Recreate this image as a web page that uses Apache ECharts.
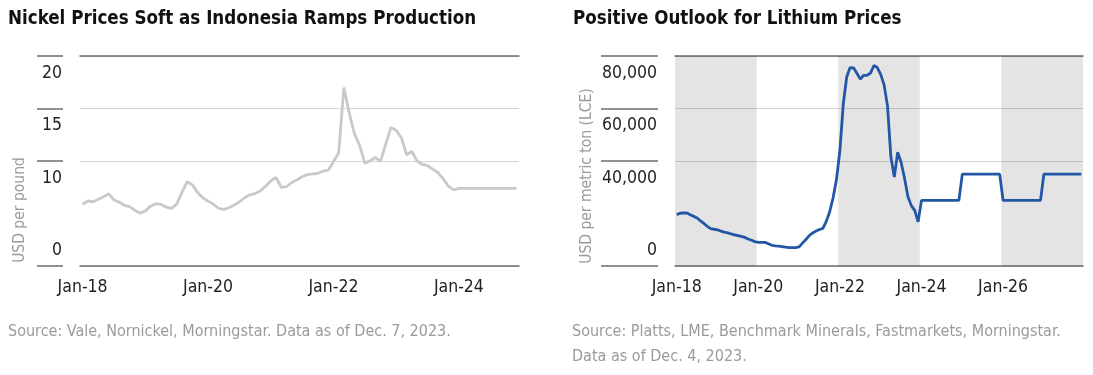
<!DOCTYPE html>
<html>
<head>
<meta charset="utf-8">
<title>Nickel and Lithium Prices</title>
<script src="https://cdn.jsdelivr.net/npm/echarts@6/dist/echarts.min.js"></script>
<style>
html, body { margin: 0; padding: 0; background: #fff; }
#main { width: 1093px; height: 375px; }
</style>
</head>
<body>
<div id="main"></div>
<script>
// 镍价，月度，2018年1月 - 2024年12月
var nickelPrices = [
    5.88, 6.19, 6.12, 6.35, 6.6, 6.86, 6.29, 6.08, 5.78, 5.66, 5.3, 5.03,
    5.25, 5.7, 5.93, 5.87, 5.6, 5.49, 5.9, 7.0, 8.03, 7.73, 7.0, 6.5,
    6.18, 5.9, 5.5, 5.4, 5.55, 5.8, 6.1, 6.5, 6.78, 6.9, 7.15, 7.6,
    8.1, 8.45, 7.5, 7.55, 7.95, 8.19, 8.5, 8.7, 8.78, 8.83, 9.03, 9.12,
    9.93, 10.8, 17.0, 14.6, 12.6, 11.5, 9.8, 10.0, 10.35, 9.95, 11.6, 13.2,
    12.9, 12.2, 10.6, 10.9, 10.0, 9.67, 9.55, 9.23, 8.88, 8.3, 7.6, 7.24,
    7.4, 7.4, 7.4, 7.4, 7.4, 7.4, 7.4, 7.4, 7.4, 7.4, 7.4, 7.4
];
var nickelXTicks = [0, 24, 48, 72];
var nickelXLabels = ['Jan-18', 'Jan-20', 'Jan-22', 'Jan-24'];
var nickelYTicks = [0, 10, 15, 20];

// 锂价，月度，2018年1月 - 2027年12月
var lithiumPrices = [
    19580, 20100, 20190, 20190, 19500, 18900, 18300, 17200, 16200, 15100, 14200, 14000,
    13800, 13300, 12900, 12600, 12200, 11900, 11600, 11300, 10900, 10300, 9800, 9300,
    9030, 9030, 9000, 8500, 7880, 7700, 7550, 7350, 7150, 7010, 7000, 7010,
    7300, 8700, 10100, 11600, 12600, 13300, 13900, 14300, 17000, 20700, 26000, 33000,
    44000, 61800, 72000, 75600, 75500, 73400, 71200, 72650, 72650, 73500, 76400, 75600,
    73000, 69000, 61000, 41500, 33900, 43400, 39500, 33500, 26500, 23000, 21200, 16800,
    25000, 25000, 25000, 25000, 25000, 25000, 25000, 25000, 25000, 25000, 25000, 25000,
    35000, 35000, 35000, 35000, 35000, 35000, 35000, 35000, 35000, 35000, 35000, 35000,
    25000, 25000, 25000, 25000, 25000, 25000, 25000, 25000, 25000, 25000, 25000, 25000,
    35000, 35000, 35000, 35000, 35000, 35000, 35000, 35000, 35000, 35000, 35000, 35000
];
var lithiumXTicks = [0, 24, 48, 72, 96];
var lithiumXLabels = ['Jan-18', 'Jan-20', 'Jan-22', 'Jan-24', 'Jan-26'];
var lithiumYTicks = [0, 40000, 60000, 80000];
// 灰色背景区间（月序号，起止）
var lithiumBands = [[0, 24], [48, 72], [96, 120]];

var FONT = "'DejaVu Sans Condensed', 'Liberation Sans Narrow', sans-serif";

var yRich = {
    t: {fontSize: 17.5, fontFamily: FONT, color: '#222', padding: [34, 0, 0, 0]},
    b: {fontSize: 17.5, fontFamily: FONT, color: '#222', padding: [0, 0, 32, 0]}
};

function xLabelFormatter(ticks, labels) {
    return function (v) {
        var i = ticks.indexOf(Math.round(v));
        return i >= 0 ? labels[i] : '';
    };
}

function yLabelFormatter(fmt) {
    return function (v) {
        if (v === 0) return '{b|0}';
        return '{t|' + fmt(v) + '}';
    };
}

function thousands(v) {
    return String(v).replace(/\B(?=(\d{3})+(?!\d))/g, ',');
}

function bottomAxis(grid, max, ticks, labels) {
    return {
        gridIndex: grid, type: 'value', min: -0.5, max: max, position: 'bottom',
        axisLine: {onZero: false, lineStyle: {color: '#6e6e6e', width: 1.5}},
        axisTick: {show: false},
        splitLine: {show: false},
        axisLabel: {
            customValues: ticks,
            formatter: xLabelFormatter(ticks, labels),
            color: '#222', fontSize: 17.5, fontFamily: FONT, margin: 12
        }
    };
}

function topAxis(grid, max) {
    return {
        gridIndex: grid, type: 'value', min: -0.5, max: max, position: 'top',
        axisLine: {onZero: false, lineStyle: {color: '#6e6e6e', width: 1.5}},
        axisTick: {show: false},
        axisLabel: {show: false},
        splitLine: {show: false}
    };
}

function gridAxis(grid, max, interval, ticks) {
    return {
        gridIndex: grid, type: 'value', min: 0, max: max, interval: interval,
        position: 'left',
        axisLine: {show: false, onZero: false},
        axisTick: {show: false, customValues: ticks},
        axisLabel: {show: false},
        splitLine: {show: true, lineStyle: {color: '#d4d4d4', width: 1.2}}
    };
}

function labelAxis(grid, max, interval, ticks, tickLen, fmt) {
    return {
        gridIndex: grid, type: 'value', min: 0, max: max, interval: interval,
        position: 'left',
        offset: 17,
        axisLine: {show: false, onZero: false},
        axisTick: {show: true, inside: false, length: tickLen, customValues: ticks,
            lineStyle: {color: '#6e6e6e', width: 1.5}},
        axisLabel: {
            customValues: ticks, margin: 1,
            fontSize: 17.5, fontFamily: FONT, color: '#222',
            formatter: yLabelFormatter(fmt),
            rich: yRich
        },
        splitLine: {show: false}
    };
}

function showCharts() {
    var myChart = echarts.init(document.getElementById('main'));
    var option = {
        animation: false,
        title: [
            {
                text: 'Nickel Prices Soft as Indonesia Ramps Production',
                left: 8, top: 10, padding: 0,
                textStyle: {fontFamily: FONT, fontSize: 18.6, fontWeight: 'bold', color: '#111'}
            },
            {
                text: 'Positive Outlook for Lithium Prices',
                left: 573, top: 10, padding: 0,
                textStyle: {fontFamily: FONT, fontSize: 18.6, fontWeight: 'bold', color: '#111'}
            }
        ],
        grid: [
            {left: 80, top: 56, width: 439, height: 210, outerBoundsMode: 'none'},
            {left: 675, top: 56, width: 408, height: 210, outerBoundsMode: 'none'}
        ],
        xAxis: [
            bottomAxis(0, 83.5, nickelXTicks, nickelXLabels),
            topAxis(0, 83.5),
            bottomAxis(1, 119.5, lithiumXTicks, lithiumXLabels),
            topAxis(1, 119.5)
        ],
        yAxis: [
            gridAxis(0, 20, 5, nickelYTicks),
            labelAxis(0, 20, 5, nickelYTicks, 26, function (v) { return v; }),
            gridAxis(1, 80000, 20000, lithiumYTicks),
            labelAxis(1, 80000, 20000, lithiumYTicks, 57, thousands)
        ],
        series: [
            {
                name: 'Nickel',
                type: 'line',
                xAxisIndex: 0, yAxisIndex: 0,
                symbol: 'none',
                silent: true,
                lineStyle: {color: '#c9c9c9', width: 2.8},
                data: nickelPrices.map(function (v, i) { return [i, v]; })
            },
            {
                name: 'Lithium',
                type: 'line',
                xAxisIndex: 2, yAxisIndex: 2,
                symbol: 'none',
                silent: true,
                lineStyle: {color: '#2356a5', width: 2.8},
                markArea: {
                    silent: true,
                    itemStyle: {color: 'rgba(0,0,0,0.105)'},
                    data: lithiumBands.map(function (b) {
                        return [{xAxis: b[0] - 0.5}, {xAxis: b[1] - 0.5}];
                    })
                },
                data: lithiumPrices.map(function (v, i) { return [i, v]; })
            }
        ],
        graphic: [
            {
                type: 'text', x: 20, y: 210, rotation: Math.PI / 2,
                style: {text: 'USD per pound', fontFamily: FONT, fontSize: 15.5, fill: '#9a9a9a',
                    align: 'center', verticalAlign: 'middle'}
            },
            {
                type: 'text', x: 587, y: 176, rotation: Math.PI / 2,
                style: {text: 'USD per metric ton (LCE)', fontFamily: FONT, fontSize: 15.5, fill: '#9a9a9a',
                    align: 'center', verticalAlign: 'middle'}
            },
            {
                type: 'text', x: 8, y: 332,
                style: {text: 'Source: Vale, Nornickel, Morningstar. Data as of Dec. 7, 2023.',
                    fontFamily: FONT, fontSize: 16, fill: '#9a9a9a', verticalAlign: 'middle'}
            },
            {
                type: 'text', x: 572, y: 332,
                style: {text: 'Source: Platts, LME, Benchmark Minerals, Fastmarkets, Morningstar.',
                    fontFamily: FONT, fontSize: 16, fill: '#9a9a9a', verticalAlign: 'middle'}
            },
            {
                type: 'text', x: 572, y: 357,
                style: {text: 'Data as of Dec. 4, 2023.',
                    fontFamily: FONT, fontSize: 16, fill: '#9a9a9a', verticalAlign: 'middle'}
            }
        ]
    };
    myChart.setOption(option);
}

showCharts();
</script>
</body>
</html>
